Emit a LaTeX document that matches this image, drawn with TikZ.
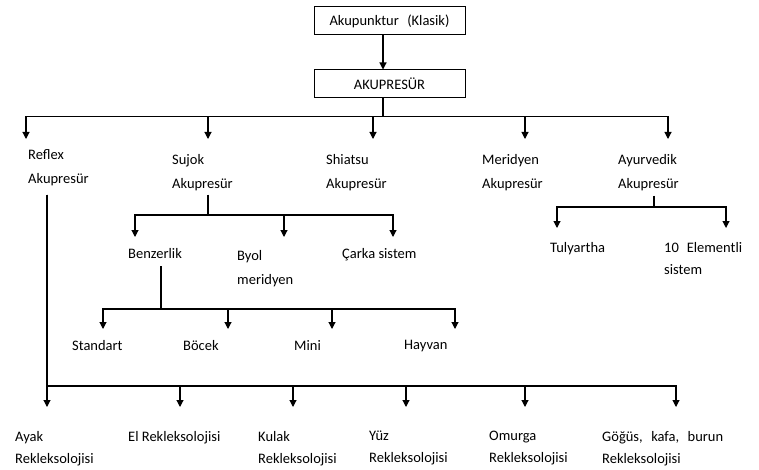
\documentclass[tikz,border=0pt]{standalone}
\usepackage{fontspec}
\setmainfont{Carlito}
\usetikzlibrary{arrows.meta}
\begin{document}
\begin{tikzpicture}[x=1pt,y=-1pt,
  box/.style={draw, line width=1pt, minimum width=151pt, minimum height=28pt, inner sep=0pt, font=\fontsize{14.5}{17}\selectfont},
  lbl/.style={anchor=north west, inner sep=0pt, align=left, font=\fontsize{14.5}{24}\selectfont},
  lblb/.style={lbl, font=\fontsize{14.5}{22}\selectfont},
  arr/.style={-{Triangle[length=7pt,width=7pt]}, line width=1.1pt},
  ln/.style={line width=1.1pt}]
\useasboundingbox[fill=white] (0,0) rectangle (759,470);

% boxes
\node[box] (klasik) at (389.5,21) {\makebox[120pt][s]{Akupunktur (Klasik)}};
\node[box] (akp) at (389.5,84) {AKUPRESÜR};

% level 1 labels
\node[lbl] (reflex) at (28,149) {Reflex\\Akupresür};
\node[lbl] (sujok) at (172,154) {Sujok\\Akupresür};
\node[lbl] (shiatsu) at (326,154) {Shiatsu\\Akupresür};
\node[lbl] (meridyen) at (482,154) {Meridyen\\Akupresür};
\node[lbl] (ayur) at (618,154) {Ayurvedik\\Akupresür};

% sujok children
\node[lbl] (benz) at (128,248) {Benzerlik};
\node[lbl] (byol) at (237,250) {Byol\\meridyen};
\node[lbl] (carka) at (342,248) {Çarka sistem};

% benzerlik children
\node[lbl] (standart) at (72,340) {Standart};
\node[lbl] (bocek) at (183,340) {Böcek};
\node[lbl] (mini) at (294,340) {Mini};
\node[lbl] (hayvan) at (404,340) {Hayvan};

% ayurvedik children
\node[lbl] (tuly) at (550,242) {Tulyartha};
\node[lblb] (elem) at (664,242) {\makebox[78pt][s]{10 Elementli}\\sistem};

% reflex children
\node[lblb] (ayak) at (15,431) {Ayak\\Rekleksolojisi};
\node[lblb] (el) at (128,431) {El Rekleksolojisi};
\node[lblb] (kulak) at (258,431) {Kulak\\Rekleksolojisi};
\node[lblb] (yuz) at (369,431) {Yüz\\Rekleksolojisi};
\node[lblb] (omurga) at (489,431) {Omurga\\Rekleksolojisi};
\node[lblb] (gogus) at (602,431) {\makebox[121pt][s]{Göğüs, kafa, burun}\\Rekleksolojisi};

% arrow tip coordinates
\coordinate (tReflex) at (26,139);
\coordinate (tSujok) at (208,139);
\coordinate (tShiatsu) at (373,139);
\coordinate (tMeridyen) at (525,139);
\coordinate (tAyur) at (668,139);

\coordinate (r0) at (47,195);
\coordinate (tAyak) at (47,407);
\coordinate (tEl) at (180,407);
\coordinate (tKulak) at (293,407);
\coordinate (tYuz) at (406,407);
\coordinate (tOmurga) at (525,407);
\coordinate (tGogus) at (676,407);

\coordinate (s0) at (208,195);
\coordinate (tBenz) at (135,237);
\coordinate (tByol) at (284,237);
\coordinate (tCarka) at (393,237);

\coordinate (b0) at (161,266);
\coordinate (tStandart) at (103,329);
\coordinate (tBocek) at (228,329);
\coordinate (tMini) at (332,329);
\coordinate (tHayvan) at (455,329);

\coordinate (a0) at (654,196);
\coordinate (tTuly) at (557,228);
\coordinate (tElem) at (726,228);

% connectors
\draw[arr] ([xshift=-6.5pt]klasik.south) -- ([xshift=-6.5pt]akp.north);
\foreach \t in {tReflex,tSujok,tShiatsu,tMeridyen,tAyur}
  \draw[arr] ([xshift=-6.5pt]akp.south) -- ++(0,18) -| (\t);
\foreach \t in {tAyak,tEl,tKulak,tYuz,tOmurga,tGogus}
  \draw[arr] (r0) -- ++(0,191) -| (\t);
\foreach \t in {tBenz,tByol,tCarka}
  \draw[arr] (s0) -- ++(0,20) -| (\t);
\foreach \t in {tStandart,tBocek,tMini,tHayvan}
  \draw[arr] (b0) -- ++(0,43) -| (\t);
\foreach \t in {tTuly,tElem}
  \draw[arr] (a0) -- ++(0,11) -| (\t);
\end{tikzpicture}
\end{document}
